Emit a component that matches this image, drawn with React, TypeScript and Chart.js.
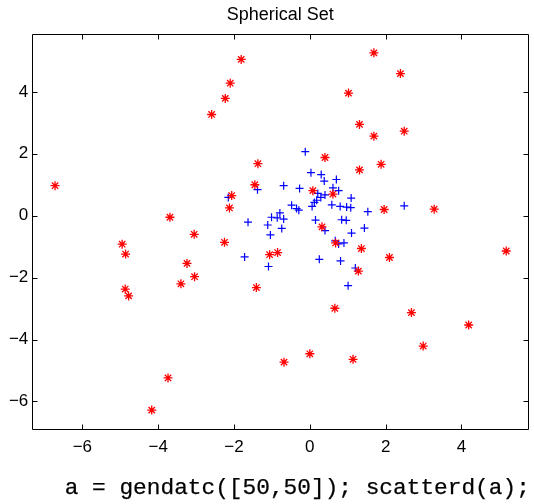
import React, { useEffect, useRef } from "react";
import { Chart, registerables } from "chart.js";

Chart.register(...registerables);

// Class "*" (red stars)
const redX = [
  -6.72, -3.69, -2.59, 1.69, 2.39, 1.02, 1.31, 1.69, 2.49, 0.4,
  1.88, 1.31, 0.08, 0.61, 1.96, 3.28, -1.37, -1.45, -2.06, -2.12,
  0.32, -2.25, 0.68, 1.36, -1.06, -0.85, 2.1, 1.28, 5.18, 0.66,
  2.68, 4.19, 2.99, 0.0, 1.14, -3.05, -4.95, -4.86, -3.24, -3.04,
  -3.4, -4.87, -4.78, -3.74, -4.17, -1.41, -0.68, -1.81, -2.1, -2.23,
];
const redY = [
  0.97, -0.05, 3.27, 5.26, 4.59, 3.96, 2.95, 2.57, 2.73, 1.88,
  1.66, 1.48, 0.81, 0.7, 0.2, 0.21, 1.68, 1.0, 0.65, 0.25,
  -0.36, -0.86, -0.88, -1.06, -1.26, -1.19, -1.35, -1.79, -1.14, -2.99,
  -3.13, -3.53, -4.21, -4.46, -4.64, -0.6, -0.92, -1.24, -1.54, -1.97,
  -2.2, -2.37, -2.59, -5.24, -6.28, -2.32, -4.73, 5.05, 4.28, 3.79,
];

// Class "+" (blue plusses)
const blueX = [
  -0.12, 0.03, 0.3, 0.38, 0.7, -0.69, -0.27, -1.38, 0.61, 0.76,
  -2.15, 0.21, 0.4, 0.29, 0.18, 0.12, 0.06, 1.09, 0.58, 0.8,
  0.97, 1.08, -0.48, -0.35, -0.29, 1.53, 2.49, -0.79, -1.01, -0.86,
  -0.69, -1.63, 0.15, 0.84, 0.96, -1.11, -0.74, 0.4, 1.44, 1.1,
  -1.04, 0.67, 0.76, 0.9, -1.72, -1.09, 0.25, 0.81, 1.2, 1.01,
];
const blueY = [
  2.07, 1.39, 1.33, 1.12, 1.17, 0.97, 0.88, 0.84, 0.9, 0.81,
  0.59, 0.72, 0.67, 0.59, 0.5, 0.43, 0.3, 0.57, 0.35, 0.3,
  0.28, 0.26, 0.34, 0.23, 0.18, 0.13, 0.32, 0.09, -0.05, -0.07,
  -0.11, -0.21, -0.14, -0.13, -0.15, -0.3, -0.41, -0.48, -0.4, -0.56,
  -0.62, -0.81, -0.91, -0.88, -1.33, -1.64, -1.41, -1.46, -1.69, -2.26,
];

const xTicks = [-6, -4, -2, 0, 2, 4];
const yTicks = [-6, -4, -2, 0, 2, 4];
const xRange = [-7.32, 5.76];
const yRange = [-6.89, 5.86];

const titleText = "Spherical Set";
const captionText = "a = gendatc([50,50]); scatterd(a);";

const fmt = (v: number) => (v < 0 ? "\u2212" + Math.abs(v) : String(v));

const boxPlugin = {
  id: "matlabBox",
  afterDraw(chart: any) {
    const { ctx, chartArea, scales } = chart;
    const l = Math.round(chartArea.left) + 0.5;
    const r = Math.round(chartArea.right) + 0.5;
    const t = Math.round(chartArea.top) + 0.5;
    const b = Math.round(chartArea.bottom) + 0.5;
    ctx.save();
    ctx.strokeStyle = "#000";
    ctx.lineWidth = 1;
    ctx.beginPath();
    ctx.rect(l, t, r - l, b - t);
    ctx.stroke();
    const tl = 5;
    ctx.beginPath();
    for (const v of xTicks) {
      const px = Math.round(scales.x.getPixelForValue(v)) + 0.5;
      ctx.moveTo(px, b);
      ctx.lineTo(px, b - tl);
      ctx.moveTo(px, t);
      ctx.lineTo(px, t + tl);
    }
    for (const v of yTicks) {
      const py = Math.round(scales.y.getPixelForValue(v)) + 0.5;
      ctx.moveTo(l, py);
      ctx.lineTo(l + tl, py);
      ctx.moveTo(r, py);
      ctx.lineTo(r - tl, py);
    }
    ctx.stroke();

    ctx.fillStyle = "#000";
    ctx.font = "18px 'Liberation Sans', Arial, sans-serif";
    ctx.textAlign = "center";
    ctx.textBaseline = "alphabetic";
    ctx.fillText(titleText, (chartArea.left + chartArea.right) / 2, 20);

    ctx.font = "22.8px 'Liberation Mono', monospace";
    ctx.textAlign = "left";
    ctx.strokeStyle = "#000";
    ctx.lineWidth = 0.25;
    ctx.fillText(captionText, 64.7, 493.5);
    ctx.strokeText(captionText, 64.7, 493.5);
    ctx.restore();
  },
};

export default function App() {
  const ref = useRef<HTMLCanvasElement | null>(null);

  useEffect(() => {
    if (!ref.current) return;
    const chart = new Chart(ref.current, {
      type: "scatter",
      data: {
        datasets: [
          {
            label: "2",
            data: redX.map((x, i) => ({ x, y: redY[i] })),
            pointStyle: "star",
            pointRadius: 4.5,
            borderColor: "#ff0000",
            backgroundColor: "#ff0000",
            borderWidth: 1.3,
          },
          {
            label: "1",
            data: blueX.map((x, i) => ({ x, y: blueY[i] })),
            pointStyle: "cross",
            pointRadius: 4,
            borderColor: "#0000ff",
            backgroundColor: "#0000ff",
            borderWidth: 1.2,
          },
        ],
      },
      options: {
        responsive: false,
        animation: false,
        events: [],
        layout: { padding: { left: 0, right: 1.5, top: 34.3, bottom: 0 } },
        plugins: {
          legend: { display: false },
          tooltip: { enabled: false },
          title: { display: false },
        },
        scales: {
          x: {
            type: "linear",
            min: xRange[0],
            max: xRange[1],
            grid: { display: false, drawTicks: false },
            border: { display: false },
            afterBuildTicks: (s: any) => {
              s.ticks = xTicks.map((v) => ({ value: v }));
            },
            afterFit: (s: any) => {
              s.height = 75;
            },
            ticks: {
              color: "#000",
              padding: 8,
              maxRotation: 0,
              font: { family: "'Liberation Sans', Arial, sans-serif", size: 17 },
              callback: (v: any) => fmt(Number(v)),
            },
          },
          y: {
            type: "linear",
            min: yRange[0],
            max: yRange[1],
            grid: { display: false, drawTicks: false },
            border: { display: false },
            afterBuildTicks: (s: any) => {
              s.ticks = yTicks.map((v) => ({ value: v }));
            },
            afterFit: (s: any) => {
              s.width = 32.3;
            },
            ticks: {
              color: "#000",
              padding: 4,
              font: { family: "'Liberation Sans', Arial, sans-serif", size: 17 },
              callback: (v: any) => fmt(Number(v)),
            },
          },
        },
      },
      plugins: [boxPlugin],
    });
    return () => chart.destroy();
  }, []);

  return (
    <div style={{ position: "absolute", left: 0, top: 0, width: 534, height: 504, background: "#fff" }}>
      <canvas ref={ref} width={534} height={504} style={{ display: "block", width: 534, height: 504 }} />
    </div>
  );
}
